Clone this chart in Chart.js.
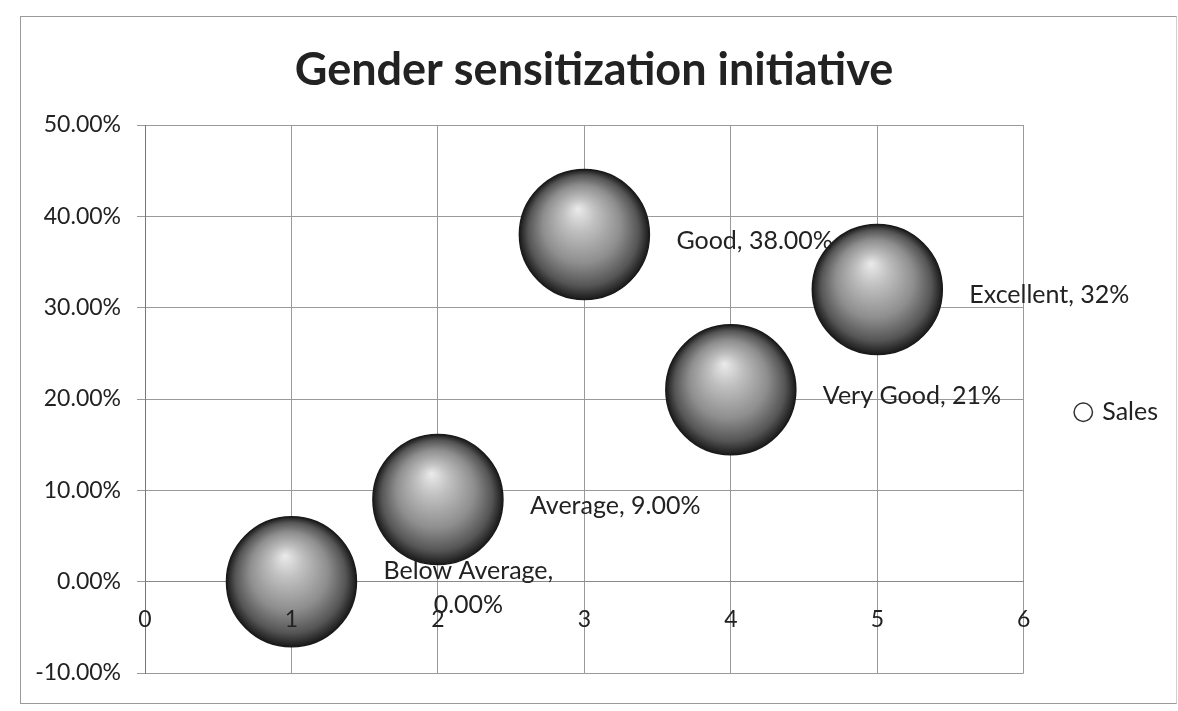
<!DOCTYPE html>
<html>
<head>
<meta charset="utf-8">
<script src="https://cdn.jsdelivr.net/npm/chart.js@4"></script>
<style>
  html, body { margin: 0; padding: 0; background: #fff; }
  #wrap { position: relative; width: 1178px; height: 711px; }
  #frame {
    position: absolute; left: 20px; top: 16px; width: 1155px; height: 686px;
    border: 1px solid #9a9a9a; border-right-color: #d0d0d0; pointer-events: none;
  }
</style>
</head>
<body>
<div id="wrap">
  <canvas id="bubbleChart" width="1178" height="711"></canvas>
  <div id="frame"></div>
</div>
<script>
// Chart data
const categories = ['Below Average', 'Average', 'Good', 'Very Good', 'Excellent'];
const xValues = [1, 2, 3, 4, 5];
const salesValues = [0, 9, 38, 21, 32];          // percent
const labelDecimals = [2, 2, 2, 0, 0];            // as shown in the data labels
const yTicks = [-10, 0, 10, 20, 30, 40, 50];
const xTicks = [0, 1, 2, 3, 4, 5, 6];

const FONT = 'Lato, "Open Sans", sans-serif';
const TEXT = '#222';

// gray sphere fill for every bubble
function sphereFill(ctx) {
    const chart = ctx.chart;
    if (ctx.type !== 'data' || !chart.chartArea) return '#9a9a9a';
    const cx = chart.scales.x.getPixelForValue(ctx.raw.x);
    const cy = chart.scales.y.getPixelForValue(ctx.raw.y);
    const r = 65;
    const g = chart.ctx.createRadialGradient(cx - 0.1 * r, cy - 0.4 * r, 0, cx, cy, r);
    g.addColorStop(0, '#ebebeb');
    g.addColorStop(0.25, '#c0c0c0');
    g.addColorStop(0.6, '#8e8e8e');
    g.addColorStop(0.85, '#555');
    g.addColorStop(1, '#1a1a1a');
    return g;
}

// data labels to the right of each bubble
const bubbleLabels = {
    id: 'bubbleLabels',
    afterDatasetsDraw(chart) {
        const ctx = chart.ctx;
        const meta = chart.getDatasetMeta(0);
        ctx.save();
        ctx.font = '25px ' + FONT;
        ctx.fillStyle = TEXT;
        ctx.textBaseline = 'middle';
        ctx.textAlign = 'center';
        meta.data.forEach((el, i) => {
            const value = salesValues[i].toFixed(labelDecimals[i]) + '%';
            let lines = [categories[i] + ', ' + value];
            if (ctx.measureText(lines[0]).width > 200) {
                lines = [categories[i] + ',', value];
            }
            const w = Math.max(...lines.map(l => ctx.measureText(l).width));
            const left = el.x + 92;
            const lh = 34;
            const top = el.y + 6 - (lines.length - 1) * lh / 2;
            lines.forEach((l, k) => ctx.fillText(l, left + w / 2, top + k * lh));
        });
        ctx.restore();
    }
};

const chart = new Chart(document.getElementById('bubbleChart'), {
    type: 'bubble',
    data: {
        datasets: [{
            label: 'Sales',
            data: xValues.map((x, i) => ({ x: x, y: salesValues[i] })),
            radius: 65,
            backgroundColor: sphereFill,
            borderColor: '#1a1a1a',
            borderWidth: 1.5
        }]
    },
    options: {
        responsive: false,
        animation: false,
        events: [],
        layout: { autoPadding: false, padding: { left: 20, right: 10, top: 0, bottom: 38 } },
        plugins: {
            title: {
                display: true,
                text: 'Gender sensitization initiative',
                color: TEXT,
                font: { family: FONT, size: 45, weight: 'bold' },
                padding: { top: 43, bottom: 28 }
            },
            legend: {
                position: 'right',
                fullSize: false,
                title: { display: true, text: '', padding: 0, font: { size: 22 } },
                labels: {
                    color: TEXT,
                    font: { family: FONT, size: 25 },
                    padding: 53,
                    usePointStyle: true,
                    pointStyle: 'circle',
                    boxWidth: 13,
                    boxHeight: 13,
                    generateLabels(c) {
                        return Chart.defaults.plugins.legend.labels.generateLabels(c).map(l => {
                            l.fillStyle = '#fff';
                            l.strokeStyle = '#333';
                            l.lineWidth = 1.5;
                            return l;
                        });
                    }
                }
            },
            tooltip: { enabled: false }
        },
        scales: {
            x: {
                type: 'linear',
                position: { y: 0 },
                min: 0,
                max: 6,
                afterBuildTicks(s) { s.ticks = xTicks.map(v => ({ value: v })); },
                afterFit(s) { s.height = 0; },
                grid: { color: '#9a9a9a', lineWidth: 1, drawTicks: false },
                border: { color: '#8a8a8a', width: 1 },
                ticks: {
                    z: 1,
                    padding: 24,
                    color: TEXT,
                    font: { family: FONT, size: 23 }
                }
            },
            y: {
                min: -10,
                max: 50,
                afterBuildTicks(s) { s.ticks = yTicks.map(v => ({ value: v })); },
                afterFit(s) { s.width = 125; },
                grid: { color: '#9a9a9a', lineWidth: 1, tickLength: 8 },
                border: { color: '#777', width: 1 },
                ticks: {
                    padding: 16,
                    color: TEXT,
                    font: { family: FONT, size: 23 },
                    callback: v => v.toFixed(2) + '%'
                }
            }
        }
    },
    plugins: [bubbleLabels]
});
</script>
</body>
</html>
